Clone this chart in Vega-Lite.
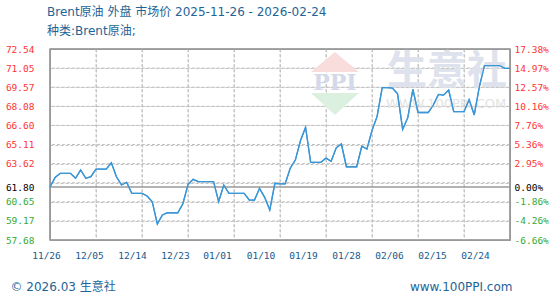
{
  "$schema": "https://vega.github.io/schema/vega-lite/v6.json",
  "width": 460,
  "height": 191,
  "autosize": {"type": "none"},
  "padding": {"left": 50, "top": 49, "right": 50, "bottom": 60},
  "background": "white",
  "view": {"stroke": "#999999", "strokeWidth": 1.5},
  "title": {
    "text": "Brent原油 外盘 市场价 2025-11-26 - 2026-02-24",
    "subtitle": "种类:Brent原油;",
    "anchor": "start",
    "frame": "group",
    "offset": 6,
    "dx": -3,
    "font": "DejaVu Sans, Noto Sans CJK SC",
    "fontSize": 12,
    "fontWeight": "normal",
    "color": "#1e6496",
    "subtitleFont": "DejaVu Sans, Noto Sans CJK SC",
    "subtitleFontSize": 12,
    "subtitleColor": "#1e6496",
    "subtitlePadding": 7
  },
  "data": {"values": [
      {"date": "2025-11-26", "value": 61.80},
      {"date": "2025-11-27", "value": 62.55},
      {"date": "2025-11-28", "value": 62.87},
      {"date": "2025-11-29", "value": 62.87},
      {"date": "2025-11-30", "value": 62.87},
      {"date": "2025-12-01", "value": 62.48},
      {"date": "2025-12-02", "value": 63.13},
      {"date": "2025-12-03", "value": 62.48},
      {"date": "2025-12-04", "value": 62.61},
      {"date": "2025-12-05", "value": 63.20},
      {"date": "2025-12-06", "value": 63.20},
      {"date": "2025-12-07", "value": 63.20},
      {"date": "2025-12-08", "value": 63.69},
      {"date": "2025-12-09", "value": 62.60},
      {"date": "2025-12-10", "value": 61.96},
      {"date": "2025-12-11", "value": 62.17},
      {"date": "2025-12-12", "value": 61.31},
      {"date": "2025-12-13", "value": 61.31},
      {"date": "2025-12-14", "value": 61.31},
      {"date": "2025-12-15", "value": 61.10},
      {"date": "2025-12-16", "value": 60.66},
      {"date": "2025-12-17", "value": 58.93},
      {"date": "2025-12-18", "value": 59.63},
      {"date": "2025-12-19", "value": 59.80},
      {"date": "2025-12-20", "value": 59.80},
      {"date": "2025-12-21", "value": 59.80},
      {"date": "2025-12-22", "value": 60.50},
      {"date": "2025-12-23", "value": 62.00},
      {"date": "2025-12-24", "value": 62.40},
      {"date": "2025-12-25", "value": 62.22},
      {"date": "2025-12-26", "value": 62.22},
      {"date": "2025-12-27", "value": 62.22},
      {"date": "2025-12-28", "value": 62.22},
      {"date": "2025-12-29", "value": 60.66},
      {"date": "2025-12-30", "value": 61.96},
      {"date": "2025-12-31", "value": 61.31},
      {"date": "2026-01-01", "value": 61.31},
      {"date": "2026-01-02", "value": 61.31},
      {"date": "2026-01-03", "value": 61.31},
      {"date": "2026-01-04", "value": 60.79},
      {"date": "2026-01-05", "value": 60.79},
      {"date": "2026-01-06", "value": 61.70},
      {"date": "2026-01-07", "value": 61.00},
      {"date": "2026-01-08", "value": 60.01},
      {"date": "2026-01-09", "value": 62.09},
      {"date": "2026-01-10", "value": 62.05},
      {"date": "2026-01-11", "value": 62.05},
      {"date": "2026-01-12", "value": 63.26},
      {"date": "2026-01-13", "value": 63.90},
      {"date": "2026-01-14", "value": 65.40},
      {"date": "2026-01-15", "value": 66.45},
      {"date": "2026-01-16", "value": 63.72},
      {"date": "2026-01-17", "value": 63.72},
      {"date": "2026-01-18", "value": 63.72},
      {"date": "2026-01-19", "value": 64.05},
      {"date": "2026-01-20", "value": 63.80},
      {"date": "2026-01-21", "value": 64.85},
      {"date": "2026-01-22", "value": 65.15},
      {"date": "2026-01-23", "value": 63.38},
      {"date": "2026-01-24", "value": 63.38},
      {"date": "2026-01-25", "value": 63.38},
      {"date": "2026-01-26", "value": 64.97},
      {"date": "2026-01-27", "value": 64.75},
      {"date": "2026-01-28", "value": 66.20},
      {"date": "2026-01-29", "value": 67.30},
      {"date": "2026-01-30", "value": 69.53},
      {"date": "2026-01-31", "value": 69.53},
      {"date": "2026-02-01", "value": 69.50},
      {"date": "2026-02-02", "value": 69.05},
      {"date": "2026-02-03", "value": 66.29},
      {"date": "2026-02-04", "value": 67.20},
      {"date": "2026-02-05", "value": 69.40},
      {"date": "2026-02-06", "value": 67.60},
      {"date": "2026-02-07", "value": 67.60},
      {"date": "2026-02-08", "value": 67.60},
      {"date": "2026-02-09", "value": 68.18},
      {"date": "2026-02-10", "value": 69.01},
      {"date": "2026-02-11", "value": 68.95},
      {"date": "2026-02-12", "value": 69.35},
      {"date": "2026-02-13", "value": 67.66},
      {"date": "2026-02-14", "value": 67.66},
      {"date": "2026-02-15", "value": 67.66},
      {"date": "2026-02-16", "value": 68.60},
      {"date": "2026-02-17", "value": 67.41},
      {"date": "2026-02-18", "value": 69.60},
      {"date": "2026-02-19", "value": 71.24},
      {"date": "2026-02-20", "value": 71.24},
      {"date": "2026-02-21", "value": 71.24},
      {"date": "2026-02-22", "value": 71.24},
      {"date": "2026-02-23", "value": 71.04},
      {"date": "2026-02-24", "value": 71.04}
  ]},
  "resolve": {"axis": {"x": "independent", "y": "independent"}},
  "layer": [
    {
      "mark": {"type": "line", "color": "#3a96d6", "strokeWidth": 1.3},
      "encoding": {
        "x": {
          "field": "date",
          "type": "temporal",
          "scale": {"type": "utc", "domain": [{"year": 2025, "month": 11, "date": 26, "utc": true}, {"year": 2026, "month": 2, "date": 24, "utc": true}]},
          "axis": {
            "orient": "bottom",
            "values": [
              {"year": 2025, "month": 11, "date": 26, "utc": true},
              {"year": 2025, "month": 12, "date": 5, "utc": true},
              {"year": 2025, "month": 12, "date": 14, "utc": true},
              {"year": 2025, "month": 12, "date": 23, "utc": true},
              {"year": 2026, "month": 1, "date": 1, "utc": true},
              {"year": 2026, "month": 1, "date": 10, "utc": true},
              {"year": 2026, "month": 1, "date": 19, "utc": true},
              {"year": 2026, "month": 1, "date": 28, "utc": true},
              {"year": 2026, "month": 2, "date": 6, "utc": true},
              {"year": 2026, "month": 2, "date": 15, "utc": true},
              {"year": 2026, "month": 2, "date": 24, "utc": true}
            ],
            "format": "%m/%d",
            "grid": true,
            "gridColor": "#c4c4c4",
            "gridDash": [3, 2],
            "ticks": false,
            "domain": true,
            "domainColor": "#999999",
            "labelFlush": false,
            "labelOverlap": false,
            "labelFont": "DejaVu Sans Mono",
            "labelFontSize": 9.5,
            "labelColor": "#165a8c",
            "labelPadding": 10,
            "labelOffset": {
              "condition": [
                {"test": "datum.value < 1764504000000", "value": -4},
                {"test": "datum.value < 1765281600000", "value": -7},
                {"test": "datum.value < 1766059200000", "value": -10},
                {"test": "datum.value < 1766836800000", "value": -13},
                {"test": "datum.value < 1767614400000", "value": -17},
                {"test": "datum.value < 1768392000000", "value": -19.5},
                {"test": "datum.value < 1769169600000", "value": -23},
                {"test": "datum.value < 1769947200000", "value": -26},
                {"test": "datum.value < 1770724800000", "value": -29},
                {"test": "datum.value < 1771502400000", "value": -32}
              ],
              "value": -35
            },
            "title": "© 2026.03 生意社",
            "titleX": -40,
            "titleY": 46,
            "titleAlign": "left",
            "titleBaseline": "middle",
            "titleFont": "DejaVu Sans, Noto Sans CJK SC",
            "titleFontSize": 12,
            "titleFontWeight": "normal",
            "titleColor": "#1e6496"
          }
        },
        "y": {
          "field": "value",
          "type": "quantitative",
          "scale": {"domain": [57.68, 72.54], "nice": false, "zero": false},
          "axis": {
            "orient": "left",
            "values": [57.68, 59.166, 60.652, 61.8, 62.138, 63.624, 65.11, 66.596, 68.082, 69.568, 71.054, 72.54],
            "grid": true,
            "gridColor": "#c4c4c4",
            "gridDash": [3, 2],
            "gridOpacity": {"condition": {"test": "abs(datum.value - 61.8) < 0.001", "value": 0}, "value": 1},
            "labelExpr": "abs(datum.value - 62.138) < 0.001 ? '' : format(datum.value, '.2f')",
            "labelColor": {
              "condition": [
                {"test": "datum.value > 61.9", "value": "#ff3333"},
                {"test": "datum.value < 61.7", "value": "#33aa33"}
              ],
              "value": "#000000"
            },
            "labelFont": "DejaVu Sans Mono",
            "labelFontSize": 9.5,
            "labelPadding": 16,
            "labelOverlap": false,
            "labelBaseline": "middle",
            "ticks": false,
            "domain": true,
            "domainColor": "#999999",
            "title": null
          }
        }
      }
    },
    {
      "data": {"values": [{"g": 59.166}, {"g": 60.652}, {"g": 62.138}, {"g": 63.624}, {"g": 65.11}, {"g": 66.596}, {"g": 68.082}, {"g": 69.568}, {"g": 71.054}]},
      "mark": {"type": "rule", "color": "#c4c4c4", "strokeWidth": 1, "strokeDash": [3, 2]},
      "encoding": {
        "y": {"field": "g", "type": "quantitative", "axis": null}
      }
    },
    {
      "data": {"values": [{"d": "2025-12-05"}, {"d": "2025-12-14"}, {"d": "2025-12-23"}, {"d": "2026-01-01"}, {"d": "2026-01-10"}, {"d": "2026-01-19"}, {"d": "2026-01-28"}, {"d": "2026-02-06"}, {"d": "2026-02-15"}]},
      "mark": {"type": "rule", "color": "#c4c4c4", "strokeWidth": 1, "strokeDash": [3, 2]},
      "encoding": {
        "x": {"field": "d", "type": "temporal", "axis": null}
      }
    },
    {
      "data": {"values": [{}]},
      "mark": {"type": "text", "text": "生意社", "font": "Noto Sans CJK SC", "fontSize": 40, "fontWeight": "bold", "color": "#dde2ec", "align": "center", "baseline": "middle"},
      "encoding": {
        "x": {"datum": {"year": 2026, "month": 2, "date": 11, "hours": 16, "utc": true}, "type": "temporal",
          "axis": {"orient": "top", "labels": false, "ticks": false, "grid": false, "domain": true, "domainColor": "#999999", "title": null}},
        "y": {"datum": 70.75, "type": "quantitative", "axis": null}
      }
    },
    {
      "data": {"values": [{}]},
      "mark": {"type": "text", "text": "WWW.100PPI.COM", "font": "DejaVu Sans", "fontSize": 13, "color": "#e3e3e3", "align": "center", "baseline": "middle"},
      "encoding": {
        "x": {"datum": {"year": 2026, "month": 2, "date": 11, "hours": 12, "utc": true}, "type": "temporal", "axis": null},
        "y": {"datum": 68.26, "type": "quantitative", "axis": null}
      }
    },
    {
      "data": {"values": [{}]},
      "mark": {"type": "point", "shape": "M-1,0.42L0,-0.42L1,0.42Z", "size": 2304, "filled": true, "color": "#f9dcdc", "opacity": 1},
      "encoding": {
        "x": {"datum": {"year": 2026, "month": 1, "date": 20, "hours": 18, "utc": true}, "type": "temporal", "axis": null},
        "y": {"datum": 71.53, "type": "quantitative", "axis": null}
      }
    },
    {
      "data": {"values": [{}]},
      "mark": {"type": "text", "text": "PPI", "font": "DejaVu Serif", "fontSize": 22, "fontWeight": "bold", "color": "#d3d9e8", "align": "center", "baseline": "middle"},
      "encoding": {
        "x": {"datum": {"year": 2026, "month": 1, "date": 20, "hours": 18, "utc": true}, "type": "temporal", "axis": null},
        "y": {"datum": 69.92, "type": "quantitative", "axis": null}
      }
    },
    {
      "data": {"values": [{}]},
      "mark": {"type": "point", "shape": "M-1,-0.46L1,-0.46L0,0.46Z", "size": 2304, "filled": true, "color": "#dcf0e0", "opacity": 1},
      "encoding": {
        "x": {"datum": {"year": 2026, "month": 1, "date": 20, "hours": 18, "utc": true}, "type": "temporal", "axis": null},
        "y": {"datum": 68.26, "type": "quantitative", "axis": null}
      }
    },
    {
      "data": {"values": [{}]},
      "mark": {"type": "rule", "color": "#9a9a9a", "strokeWidth": 1.5},
      "encoding": {
        "y": {"datum": 61.8, "type": "quantitative", "axis": null}
      }
    },
    {
      "data": {"values": [{"g": 57.68}, {"g": 72.54}]},
      "mark": {"type": "rule", "color": "#999999", "strokeWidth": 1.2},
      "encoding": {
        "y": {"field": "g", "type": "quantitative", "axis": null}
      }
    },
    {
      "data": {"values": [{"d": "2025-11-26"}, {"d": "2026-02-24"}]},
      "mark": {"type": "rule", "color": "#999999", "strokeWidth": 1.2},
      "encoding": {
        "x": {"field": "d", "type": "temporal", "axis": null}
      }
    },
    {
      "mark": {"type": "line", "color": "#3a96d6", "strokeWidth": 1.3},
      "encoding": {
        "x": {"field": "date", "type": "temporal", "axis": null},
        "y": {"field": "value", "type": "quantitative", "axis": null}
      }
    },
    {
      "mark": {"type": "point", "opacity": 0},
      "encoding": {
        "x": {
          "field": "date",
          "type": "temporal",
          "axis": {
            "orient": "bottom",
            "labels": false,
            "grid": false,
            "ticks": false,
            "domain": false,
            "title": "www.100PPI.com",
            "titleX": 462,
            "titleY": 46,
            "titleAlign": "right",
            "titleBaseline": "middle",
            "titleFont": "DejaVu Sans",
            "titleFontSize": 12,
            "titleFontWeight": "normal",
            "titleColor": "#1e6496"
          }
        },
        "y": {
          "field": "value",
          "type": "quantitative",
          "axis": {
            "orient": "right",
            "values": [57.68, 59.166, 60.652, 61.8, 63.624, 65.11, 66.596, 68.082, 69.568, 71.054, 72.54],
            "labelExpr": "['-6.66%','-4.26%','-1.86%','0.00%','2.95%','5.36%','7.76%','10.16%','12.57%','14.97%','17.38%'][indexof([57.68, 59.166, 60.652, 61.8, 63.624, 65.11, 66.596, 68.082, 69.568, 71.054, 72.54], datum.value)]",
            "labelColor": {
              "condition": [
                {"test": "datum.value > 61.9", "value": "#ff3333"},
                {"test": "datum.value < 61.7", "value": "#33aa33"}
              ],
              "value": "#000000"
            },
            "labelFont": "DejaVu Sans Mono",
            "labelFontSize": 9.5,
            "labelPadding": 4,
            "labelOverlap": false,
            "labelBaseline": "middle",
            "grid": false,
            "ticks": false,
            "domain": true,
            "domainColor": "#999999",
            "title": null
          }
        }
      }
    }
  ]
}
